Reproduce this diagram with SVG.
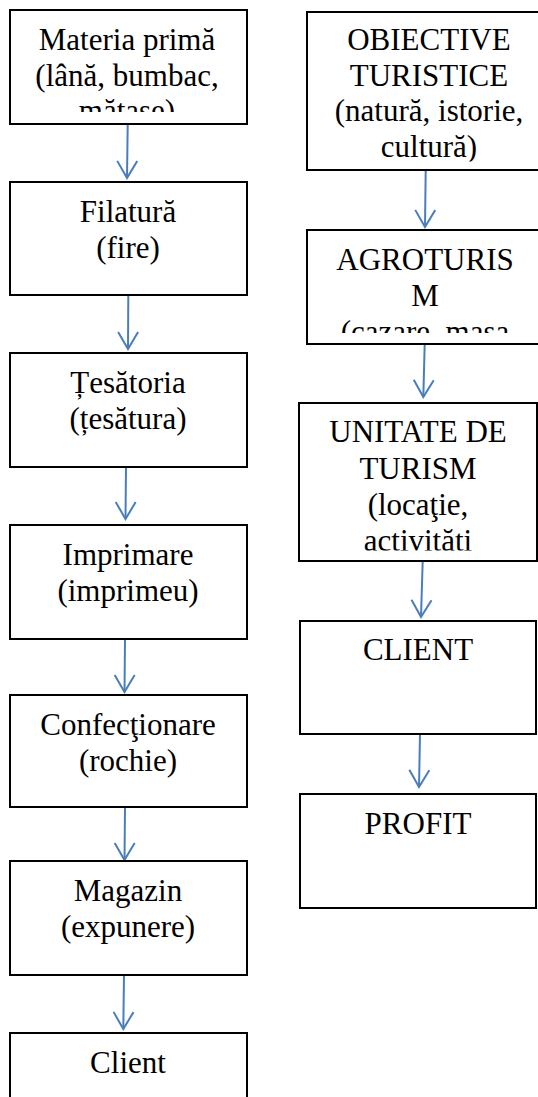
<svg xmlns="http://www.w3.org/2000/svg" width="538" height="1097" viewBox="0 0 538 1097" font-family="Liberation Serif, Tinos, Times New Roman, Noto Serif, DejaVu Serif, serif">
<style>
.box{fill:#fff;stroke:#000;stroke-width:2}
.t{font-size:31px;fill:#000;text-anchor:middle}
.c{stroke:#4A7EBB;stroke-width:2;fill:none;marker-end:url(#arr)}
</style>
<defs>
<marker id="arr" markerUnits="userSpaceOnUse" markerWidth="22" markerHeight="24" refX="18" refY="11" orient="auto" viewBox="0 0 22 24">
<path d="M1,1 L18,11 L1,21" fill="none" stroke="#4A7EBB" stroke-width="2"/>
</marker>
<clipPath id="c1"><rect x="10" y="10" width="237" height="102"/></clipPath>
<clipPath id="cA"><rect x="307" y="12" width="240" height="149.5"/></clipPath>
<clipPath id="cB"><rect x="307" y="230" width="240" height="103"/></clipPath>
<clipPath id="cC"><rect x="299" y="403" width="238" height="147.5"/></clipPath>
</defs>
<rect width="538" height="1097" fill="#fff"/>

<g id="connectors">
<line class="c" x1="127.7" y1="124" x2="127" y2="178"/>
<line class="c" x1="128.3" y1="295" x2="128" y2="349"/>
<line class="c" x1="126" y1="467" x2="125.5" y2="519"/>
<line class="c" x1="125" y1="639" x2="124.5" y2="692"/>
<line class="c" x1="125" y1="807" x2="124.5" y2="860"/>
<line class="c" x1="124" y1="975" x2="123.3" y2="1029"/>
<line class="c" x1="425.7" y1="170" x2="425" y2="227"/>
<line class="c" x1="424.7" y1="344" x2="423.3" y2="397"/>
<line class="c" x1="422.7" y1="561" x2="421" y2="617"/>
<line class="c" x1="420" y1="734" x2="419" y2="787"/>
</g>

<g id="n-materia">
<rect class="box" x="10" y="10" width="237" height="114"/>
<g clip-path="url(#c1)">
<text class="t" x="127" y="50">Materia primă</text>
<text class="t" x="127" y="85.5">(lână, bumbac,</text>
<text class="t" x="127" y="121">mătase)</text>
</g>
</g>
<g id="n-filatura">
<rect class="box" x="10" y="182" width="237" height="113"/>
<text class="t" x="128" y="222">Filatură</text>
<text class="t" x="128" y="257.5">(fire)</text>
</g>
<g id="n-tesatoria">
<rect class="box" x="10" y="353" width="237" height="114"/>
<text class="t" x="128" y="393">Țesătoria</text>
<text class="t" x="128" y="428.5">(țesătura)</text>
</g>
<g id="n-imprimare">
<rect class="box" x="10" y="525" width="237" height="114"/>
<text class="t" x="128" y="565">Imprimare</text>
<text class="t" x="128" y="600.5">(imprimeu)</text>
</g>
<g id="n-confectionare">
<rect class="box" x="10" y="695" width="237" height="112"/>
<text class="t" x="128" y="735">Confecţionare</text>
<text class="t" x="128" y="770.5">(rochie)</text>
</g>
<g id="n-magazin">
<rect class="box" x="10" y="861" width="237" height="114"/>
<text class="t" x="128" y="901">Magazin</text>
<text class="t" x="128" y="936.5">(expunere)</text>
</g>
<g id="n-client">
<rect class="box" x="10" y="1033" width="237" height="90"/>
<text class="t" x="128" y="1073">Client</text>
</g>

<g id="n-obiective">
<rect class="box" x="307" y="12" width="244" height="158"/>
<g clip-path="url(#cA)">
<text class="t" x="429" y="50">OBIECTIVE</text>
<text class="t" x="429" y="85.5">TURISTICE</text>
<text class="t" x="429" y="121">(natură, istorie,</text>
<text class="t" x="429" y="156.5">cultură)</text>
</g>
</g>
<g id="n-agroturism">
<rect class="box" x="307" y="230" width="236" height="114"/>
<g clip-path="url(#cB)">
<text class="t" x="425" y="270">AGROTURIS</text>
<text class="t" x="425" y="306">M</text>
<text class="t" x="425" y="342">(cazare, masa</text>
</g>
</g>
<g id="n-unitate">
<rect class="box" x="299" y="403" width="238" height="158"/>
<g clip-path="url(#cC)">
<text class="t" x="418" y="442">UNITATE DE</text>
<text class="t" x="418" y="478.5">TURISM</text>
<text class="t" x="418" y="515">(locaţie,</text>
<text class="t" x="418" y="551">activităţi</text>
</g>
</g>
<g id="n-client-r">
<rect class="box" x="300" y="621" width="236" height="113"/>
<text class="t" x="418" y="660">CLIENT</text>
</g>
<g id="n-profit">
<rect class="box" x="300" y="794" width="236" height="114"/>
<text class="t" x="418" y="834">PROFIT</text>
</g>
</svg>
